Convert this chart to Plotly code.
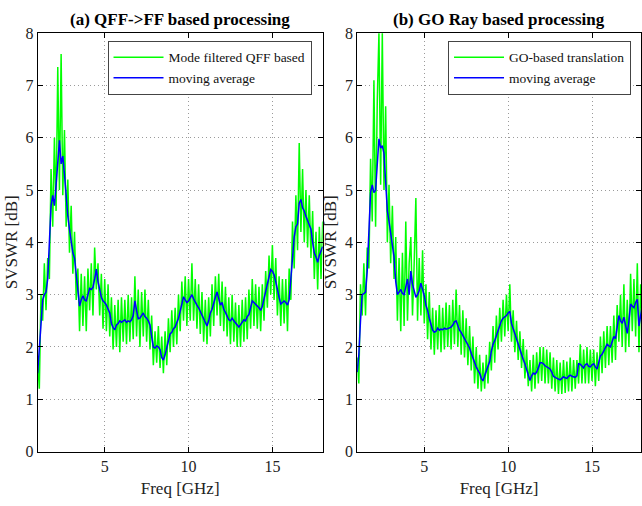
import plotly.graph_objects as go

# Frequency axis (GHz), 0.1 GHz step from 1.0 to 18.0
freq = [round(1.0 + 0.1 * i, 1) for i in range(171)]

# Panel (a): QFF->FF based processing
qff_raw = [
    1.75, 1.2, 3.0, 2.5, 3.6, 2.7, 3.7, 3.3, 5.4, 4.3,
    6.0, 4.6, 7.35, 5.0, 7.6, 4.9, 6.15, 4.3, 5.2, 3.8,
    4.7, 3.4, 4.2, 2.9, 3.5, 2.3, 3.4, 2.4, 3.35, 2.3,
    3.5, 2.7, 3.6, 2.6, 3.9, 3.1, 3.6, 2.6, 3.4, 2.35,
    3.3, 2.3, 3.2, 2.2, 2.95, 1.95, 2.8, 2.0, 2.9, 1.9,
    2.95, 2.1, 2.9, 2.05, 3.0, 2.1, 2.95, 2.15, 3.35, 2.2,
    3.1, 2.0, 3.05, 2.2, 3.1, 2.1, 2.9, 1.95, 2.6, 1.65,
    2.3, 1.7, 2.4, 1.6, 2.2, 1.5, 2.3, 1.65, 2.55, 1.9,
    2.7, 2.0, 2.75, 2.05, 3.0, 2.3, 3.25, 2.5, 3.35, 2.4,
    3.3, 2.5, 3.6, 2.5, 3.3, 2.35, 3.2, 2.25, 3.05, 2.1,
    2.9, 2.05, 2.95, 2.2, 3.2, 2.4, 3.35, 2.6, 3.4, 2.4,
    3.25, 2.3, 3.15, 2.2, 2.95, 2.05, 3.0, 2.1, 2.85, 2.0,
    2.8, 2.0, 2.9, 2.1, 2.95, 2.15, 3.1, 2.35, 3.3, 2.4,
    3.2, 2.35, 3.15, 2.3, 3.2, 2.5, 3.45, 2.75, 3.75, 3.0,
    3.95, 2.9, 3.7, 2.6, 3.35, 2.4, 3.3, 2.45, 3.3, 2.3,
    3.5, 2.9, 4.4, 3.5, 4.9, 3.85, 5.9, 4.2, 5.4, 4.0,
    5.0, 3.9, 4.9, 3.7, 4.6, 3.3, 4.2, 3.1, 4.3, 3.3,
    4.4,
]
qff_avg = [
    1.5, 1.95, 2.4, 2.9, 3.0, 3.05, 3.3, 3.9, 4.7, 4.9,
    4.7, 5.1, 5.6, 5.95, 5.5, 5.65, 5.3, 4.8, 4.5, 4.25,
    4.0, 3.8, 3.7, 3.35, 3.05, 2.78, 2.9, 2.98, 2.9, 2.88,
    3.0, 3.12, 3.1, 3.14, 3.3, 3.49, 3.25, 3.07, 2.95, 2.88,
    2.85, 2.8, 2.72, 2.65, 2.45, 2.37, 2.33, 2.42, 2.45, 2.5,
    2.47, 2.5, 2.52, 2.47, 2.5, 2.48, 2.52, 2.6, 2.88, 2.7,
    2.54, 2.55, 2.6, 2.65, 2.58, 2.55, 2.5, 2.42, 2.2, 2.0,
    1.98, 2.02, 2.0, 1.95, 1.8, 1.75, 1.85, 1.98, 2.15, 2.25,
    2.28, 2.35, 2.38, 2.45, 2.55, 2.68, 2.85, 2.96, 2.9, 2.85,
    2.88, 2.95, 3.0, 2.92, 2.85, 2.8, 2.75, 2.68, 2.6, 2.52,
    2.45, 2.4, 2.5, 2.65, 2.72, 2.85, 2.95, 3.05, 2.9, 2.8,
    2.85, 2.72, 2.66, 2.6, 2.52, 2.5, 2.55, 2.5, 2.45, 2.42,
    2.38, 2.42, 2.48, 2.52, 2.5, 2.58, 2.62, 2.75, 2.88, 2.85,
    2.82, 2.78, 2.75, 2.7, 2.78, 2.92, 3.05, 3.2, 3.3, 3.48,
    3.45, 3.38, 3.25, 3.08, 2.95, 2.82, 2.85, 2.88, 2.85, 2.8,
    2.9, 3.3, 3.75, 4.1, 4.3, 4.35, 4.75, 4.82, 4.66, 4.6,
    4.5, 4.42, 4.35, 4.25, 4.0, 3.8, 3.72, 3.62, 3.75, 3.86,
    3.92,
]

# Panel (b): GO Ray based processing
go_raw = [
    1.8, 1.3, 3.2, 2.6, 3.6, 2.6, 3.9, 3.5, 5.6, 4.4,
    7.1, 4.3, 6.7, 8.0, 5.1, 8.0, 5.0, 6.6, 4.0, 5.1,
    3.6, 4.7, 3.3, 4.1, 2.5, 3.7, 2.3, 3.8, 2.4, 4.4,
    2.5, 3.6, 4.1, 2.6, 3.6, 4.85, 2.5, 3.7, 2.6, 3.85,
    2.45, 3.2, 2.15, 3.05, 1.95, 2.75, 1.85, 2.7, 1.95, 2.8,
    1.9, 2.75, 1.95, 2.85, 2.0, 2.8, 1.95, 2.9, 2.05, 3.1,
    2.0, 2.8, 1.85, 2.7, 1.8, 2.55, 1.65, 2.4, 1.55, 2.2,
    1.3, 2.0, 1.2, 1.85, 1.15, 1.7, 1.2, 1.85, 1.3, 2.1,
    1.55, 2.4, 1.7, 2.6, 1.95, 2.75, 2.1, 2.9, 2.2, 3.0,
    2.3, 3.2, 2.1, 2.7, 1.9, 2.5, 1.75, 2.3, 1.6, 2.15,
    1.4, 1.95, 1.25, 1.75, 1.15, 1.85, 1.2, 1.9, 1.3, 2.0,
    1.35, 2.0, 1.3, 1.95, 1.3, 1.9, 1.2, 1.8, 1.15, 1.75,
    1.1, 1.7, 1.1, 1.75, 1.12, 1.72, 1.15, 1.8, 1.15, 1.75,
    1.2, 1.75, 1.3, 2.05, 1.3, 1.95, 1.3, 2.0, 1.3, 1.95,
    1.35, 1.95, 1.25, 1.9, 1.35, 2.2, 1.5, 2.3, 1.6, 2.4,
    1.65, 2.4, 1.7, 2.6, 1.75, 2.8, 2.1, 3.0, 2.0, 3.2,
    1.9, 2.9, 2.0, 3.4, 2.3, 3.3, 2.2, 3.6, 1.9, 3.2,
    2.4,
]
go_avg = [
    1.52, 1.85, 2.5, 3.0, 3.02, 3.05, 3.45, 4.2, 4.95, 5.1,
    4.95, 5.0, 5.55, 5.98, 5.8, 5.85, 5.7, 5.1, 4.6, 4.4,
    4.2, 3.95, 3.72, 3.25, 3.0, 3.05, 3.1, 3.02, 3.0, 3.15,
    3.3, 3.0, 3.45, 3.2, 3.05, 2.95, 3.0, 3.08, 3.22, 3.1,
    2.98, 2.8, 2.7, 2.55, 2.42, 2.32, 2.28, 2.3, 2.36, 2.32,
    2.34, 2.33, 2.36, 2.34, 2.35, 2.37, 2.38, 2.42, 2.48, 2.5,
    2.4, 2.32, 2.28, 2.22, 2.18, 2.1, 2.04, 1.98, 1.88, 1.78,
    1.7, 1.62, 1.55, 1.5, 1.4, 1.35, 1.45, 1.53, 1.62, 1.72,
    1.92, 2.05, 2.12, 2.22, 2.32, 2.4, 2.5, 2.55, 2.57, 2.6,
    2.65, 2.68, 2.45, 2.35, 2.25, 2.12, 2.02, 1.92, 1.85, 1.76,
    1.68, 1.58, 1.5, 1.36, 1.45, 1.5, 1.48, 1.52, 1.6, 1.7,
    1.7, 1.68, 1.64, 1.62, 1.6, 1.58, 1.52, 1.44, 1.42, 1.4,
    1.38, 1.37, 1.4, 1.43, 1.41, 1.4, 1.44, 1.46, 1.44, 1.43,
    1.42, 1.45, 1.68, 1.67, 1.64, 1.6, 1.66, 1.68, 1.63, 1.62,
    1.66, 1.68, 1.62, 1.58, 1.7, 1.83, 1.86, 1.92, 2.0, 2.05,
    2.02, 2.0, 2.1, 2.2, 2.16, 2.35, 2.6, 2.5, 2.45, 2.57,
    2.4, 2.26, 2.5, 2.82, 2.78, 2.75, 2.85, 2.91, 2.4, 2.65,
    2.8,
]

titles = ["(a) QFF->FF based processing", "(b) GO Ray based processing"]
raw_names = ["Mode filtered QFF based", "GO-based translation"]
avg_name = "moving average"
x_ticks = [5, 10, 15]
y_ticks = [0, 1, 2, 3, 4, 5, 6, 7, 8]

FONT = "Liberation Serif"
GREEN = "#00FF00"
BLUE = "#0000FF"

fig = go.Figure()

fig.add_trace(go.Scatter(x=freq, y=qff_raw, mode="lines", name=raw_names[0],
                         line=dict(color=GREEN, width=1.5), xaxis="x", yaxis="y",
                         legend="legend"))
fig.add_trace(go.Scatter(x=freq, y=qff_avg, mode="lines", name=avg_name,
                         line=dict(color=BLUE, width=1.5), xaxis="x", yaxis="y",
                         legend="legend"))
fig.add_trace(go.Scatter(x=freq, y=go_raw, mode="lines", name=raw_names[1],
                         line=dict(color=GREEN, width=1.5), xaxis="x2", yaxis="y2",
                         legend="legend2"))
fig.add_trace(go.Scatter(x=freq, y=go_avg, mode="lines", name=avg_name,
                         line=dict(color=BLUE, width=1.5), xaxis="x2", yaxis="y2",
                         legend="legend2"))

W, H = 642, 506
ydom = [1 - 459 / H, 1 - 26 / H]
GRID = "#9a9a9a"

def xaxis(domain, rng):
    return dict(domain=domain, range=rng, tickvals=x_ticks, ticks="inside", ticklen=5,
                tickcolor="black", showline=True, linecolor="black", linewidth=1,
                mirror="ticks", showgrid=True, gridcolor=GRID, griddash="1px,3px",
                gridwidth=1, zeroline=False,
                tickfont=dict(family=FONT, size=16, color="#222"),
                title=dict(text="Freq [GHz]", font=dict(family=FONT, size=17, color="#222"),
                           standoff=8))

def yaxis(domain, anchor):
    return dict(domain=domain, range=[0, 8], tickvals=y_ticks, ticks="inside", ticklen=5,
                tickcolor="black", showline=True, linecolor="black", linewidth=1,
                mirror="ticks", showgrid=True, gridcolor=GRID, griddash="1px,3px",
                gridwidth=1, zeroline=False, anchor=anchor,
                tickfont=dict(family=FONT, size=16, color="#222"),
                title=dict(text="SVSWR [dB]", font=dict(family=FONT, size=17, color="#222"),
                           standoff=3))

legend_style = dict(bgcolor="white", bordercolor="#444", borderwidth=1,
                    font=dict(family=FONT, size=13.5, color="#111"),
                    xanchor="right", yanchor="top", tracegroupgap=0,
                    itemwidth=50)

fig.update_layout(
    width=W, height=H,
    margin=dict(l=0, r=0, t=0, b=0),
    paper_bgcolor="white", plot_bgcolor="white",
    xaxis=dict(**xaxis([37.7 / W, 323.2 / W], [1, 18]), anchor="y"),
    yaxis=yaxis(ydom, "x"),
    xaxis2=dict(**xaxis([357.7 / W, 1.0], [1, 17.92]), anchor="y2"),
    yaxis2=yaxis(ydom, "x2"),
    legend=dict(**legend_style, x=312 / W, y=1 - 34 / H),
    legend2=dict(**legend_style, x=632 / W, y=1 - 34 / H),
    annotations=[
        dict(text="<b>" + titles[0].replace(">", "&gt;") + "</b>", x=180 / W, y=1 - 12 / H,
             xref="paper", yref="paper", showarrow=False, xanchor="center", yanchor="middle",
             font=dict(family=FONT, size=17, color="black")),
        dict(text="<b>" + titles[1] + "</b>", x=500 / W, y=1 - 12 / H,
             xref="paper", yref="paper", showarrow=False, xanchor="center", yanchor="middle",
             font=dict(family=FONT, size=17, color="black")),
    ],
    showlegend=True,
)

fig.write_html("out.html")
